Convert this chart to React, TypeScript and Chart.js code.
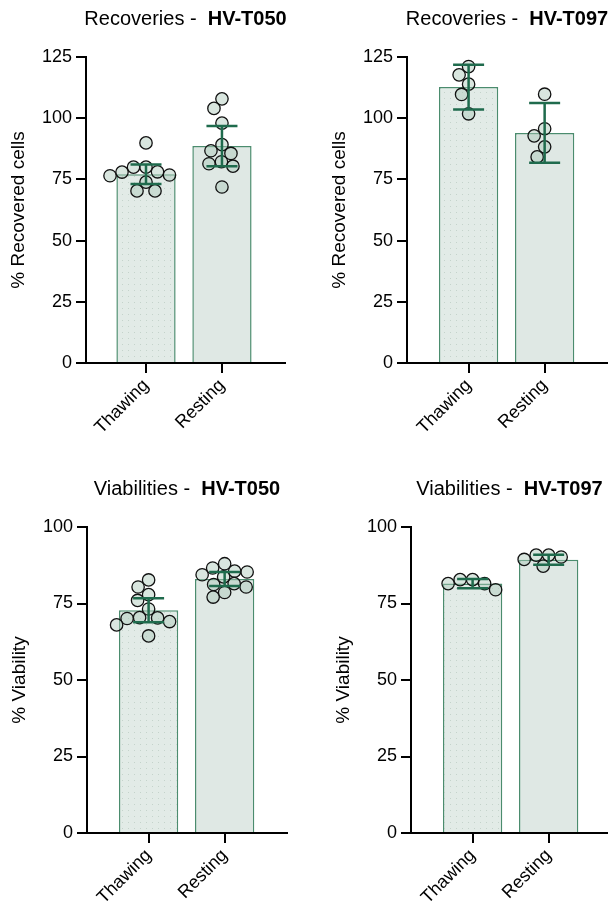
import React, { useEffect, useRef } from 'react';
import { Chart, registerables } from 'chart.js';

Chart.register(...registerables);

// ---------- data ----------
const categories = ['Thawing', 'Resting'];

// Recoveries - HV-T050
const recT050Thawing = [89.9, 80.0, 80.0, 76.8, 76.5, 78.0, 78.1, 70.3, 70.3, 73.9];
const recT050Resting = [107.9, 104.0, 98.0, 89.2, 85.6, 86.7, 82.2, 81.4, 80.4, 71.9];
const recT050Means = [77.1, 88.6];
const recT050Ci = [4.0, 8.2];

// Recoveries - HV-T097
const recT097Thawing = [121.1, 117.7, 113.9, 109.7, 101.8];
const recT097Resting = [109.8, 95.7, 92.8, 88.3, 84.2];
const recT097Means = [112.7, 94.0];
const recT097Ci = [9.1, 12.2];

// Viabilities - HV-T050
const viaT050Thawing = [82.7, 80.4, 77.9, 76.0, 73.2, 70.3, 69.1, 70.4, 70.1, 68.0, 64.4];
const viaT050Resting = [84.4, 85.3, 86.6, 88.0, 85.6, 83.7, 81.2, 80.4, 81.5, 77.1, 78.6];
const viaT050Means = [72.8, 83.0];
const viaT050Ci = [3.9, 2.3];

// Viabilities - HV-T097
const viaT097Thawing = [81.5, 82.8, 81.5, 82.8, 79.5];
const viaT097Resting = [89.4, 90.8, 90.2, 90.8, 87.2];
const viaT097Means = [81.5, 89.3];
const viaT097Ci = [1.5, 1.6];

const recoveryMax = 125;
const viabilityMax = 100;
const tickStep = 25;

// ---------- styles / layout ----------
const FONT = "'Liberation Sans', Arial, Helvetica, sans-serif";
const BAR_FILL = '#dfe8e4';
const BAR_BORDER = '#4b8c6e';
const ERR_COLOR = '#1f6b4d';
const POINT_FILL = 'rgba(170,200,185,0.45)';

type Panel = {
  titleA: string;
  titleB: string;
  yLabel: string;
  yMax: number;
  thawing: number[];
  resting: number[];
  means: number[];
  ci: number[];
  canvasLeft: number;
  canvasTop: number;
  areaLeft: number;
  areaTop: number;
  xHeight: number;
  padRight: number;
  xMin: number;
  xMax: number;
};

const panels: Panel[] = [
  {
    titleA: 'Recoveries -  ', titleB: 'HV-T050', yLabel: '% Recovered cells', yMax: recoveryMax,
    thawing: recT050Thawing, resting: recT050Resting, means: recT050Means, ci: recT050Ci,
    canvasLeft: 0, canvasTop: 0, areaLeft: 86, areaTop: 57, xHeight: 91, padRight: 19, xMin: -0.79, xMax: 1.83,
  },
  {
    titleA: 'Recoveries -  ', titleB: 'HV-T097', yLabel: '% Recovered cells', yMax: recoveryMax,
    thawing: recT097Thawing, resting: recT097Resting, means: recT097Means, ci: recT097Ci,
    canvasLeft: 304, canvasTop: 0, areaLeft: 103, areaTop: 57, xHeight: 91, padRight: 1, xMin: -0.81, xMax: 1.82,
  },
  {
    titleA: 'Viabilities -  ', titleB: 'HV-T050', yLabel: '% Viability', yMax: viabilityMax,
    thawing: viaT050Thawing, resting: viaT050Resting, means: viaT050Means, ci: viaT050Ci,
    canvasLeft: 0, canvasTop: 454, areaLeft: 87, areaTop: 73, xHeight: 75, padRight: 17, xMin: -0.81, xMax: 1.82,
  },
  {
    titleA: 'Viabilities -  ', titleB: 'HV-T097', yLabel: '% Viability', yMax: viabilityMax,
    thawing: viaT097Thawing, resting: viaT097Resting, means: viaT097Means, ci: viaT097Ci,
    canvasLeft: 304, canvasTop: 454, areaLeft: 107, areaTop: 73, xHeight: 75, padRight: 0, xMin: -0.81, xMax: 1.78,
  },
];

const W = 304;
const H = 454;

// ---------- plugins ----------
const swarmPlugin = {
  id: 'swarm',
  afterDatasetsUpdate(chart: any) {
    chart.data.datasets.forEach((ds: any, i: number) => {
      if (ds.type !== 'scatter') return;
      const meta = chart.getDatasetMeta(i);
      const D = 12.3;
      const els = meta.data.slice().sort((a: any, b: any) => a.y - b.y);
      const placed: { x: number; y: number }[] = [];
      els.forEach((el: any) => {
        const cx = el.x;
        const cy = el.y;
        let chosen = cx;
        for (let k = 0; k < 400; k++) {
          const off = (k % 2 === 0 ? 1 : -1) * Math.ceil(k / 2) * 0.5;
          const px = cx + off;
          let ok = true;
          for (const p of placed) {
            const dx = p.x - px;
            const dy = p.y - cy;
            if (dx * dx + dy * dy < D * D) { ok = false; break; }
          }
          if (ok) { chosen = px; break; }
        }
        el.x = chosen;
        placed.push({ x: chosen, y: cy });
      });
    });
  },
};

const errorBarPlugin = {
  id: 'errbars',
  afterDatasetsDraw(chart: any, _args: any, opts: any) {
    const { ctx, scales } = chart;
    const means: number[] = opts.means;
    const ci: number[] = opts.ci;
    ctx.save();
    ctx.strokeStyle = ERR_COLOR;
    ctx.lineWidth = 2.5;
    ctx.lineCap = 'butt';
    means.forEach((m, i) => {
      const x = scales.x.getPixelForValue(i);
      const yt = scales.y.getPixelForValue(m + ci[i]);
      const yb = scales.y.getPixelForValue(m - ci[i]);
      const half = 15.5;
      ctx.beginPath();
      ctx.moveTo(x, yt);
      ctx.lineTo(x, yb);
      ctx.moveTo(x - half, yt);
      ctx.lineTo(x + half, yt);
      ctx.moveTo(x - half, yb);
      ctx.lineTo(x + half, yb);
      ctx.stroke();
    });
    ctx.restore();
  },
};

const titlePlugin = {
  id: 'mixedTitle',
  afterDraw(chart: any, _args: any, opts: any) {
    const { ctx, chartArea } = chart;
    ctx.save();
    const fa = `normal 20px ${FONT}`;
    const fb = `bold 20px ${FONT}`;
    ctx.font = fa;
    const wa = ctx.measureText(opts.a).width;
    ctx.font = fb;
    const wb = ctx.measureText(opts.b).width;
    const cx = (chartArea.left + chartArea.right) / 2;
    const x0 = cx - (wa + wb) / 2;
    const y = chartArea.top - 32;
    ctx.fillStyle = '#000';
    ctx.textBaseline = 'alphabetic';
    ctx.textAlign = 'left';
    ctx.font = fa;
    ctx.fillText(opts.a, x0, y);
    ctx.font = fb;
    ctx.fillText(opts.b, x0 + wa, y);
    ctx.restore();
  },
};

function makeDotPattern(): CanvasPattern | string {
  const c = document.createElement('canvas');
  c.width = 6;
  c.height = 6;
  const g = c.getContext('2d');
  if (!g) return BAR_FILL;
  g.fillStyle = '#e2ebe7';
  g.fillRect(0, 0, 6, 6);
  g.fillStyle = '#c4d3cb';
  g.fillRect(2, 2, 1, 1);
  const p = g.createPattern(c, 'repeat');
  return p || BAR_FILL;
}

function PanelChart({ p }: { p: Panel }) {
  const ref = useRef<HTMLCanvasElement>(null);
  useEffect(() => {
    if (!ref.current) return;
    const axisGrid = {
      display: true,
      drawOnChartArea: false,
      drawTicks: true,
      tickLength: 10,
      color: '#000',
      lineWidth: 2,
      offset: false,
    };
    const border = { display: true, color: '#000', width: 2 };
    const chart = new Chart(ref.current, {
      type: 'bar',
      data: {
        datasets: [
          {
            type: 'bar',
            order: 3,
            data: p.means.map((m, i) => ({ x: i, y: m })),
            backgroundColor: [makeDotPattern(), BAR_FILL],
            borderColor: BAR_BORDER,
            borderWidth: 1.5,
            categoryPercentage: 1,
            barPercentage: 0.78,
          } as any,
          {
            type: 'scatter',
            order: 1,
            data: p.thawing.map((v) => ({ x: 0, y: v })),
            pointRadius: 6.2,
            pointBorderWidth: 1.3,
            pointBorderColor: '#111',
            pointBackgroundColor: POINT_FILL,
            showLine: false,
          } as any,
          {
            type: 'scatter',
            order: 1,
            data: p.resting.map((v) => ({ x: 1, y: v })),
            pointRadius: 6.2,
            pointBorderWidth: 1.3,
            pointBorderColor: '#111',
            pointBackgroundColor: POINT_FILL,
            showLine: false,
          } as any,
        ],
      },
      options: {
        responsive: false,
        animation: false,
        events: [],
        layout: {
          autoPadding: false,
          padding: { top: p.areaTop, left: 0, right: p.padRight, bottom: 0 },
        },
        plugins: {
          legend: { display: false },
          tooltip: { enabled: false },
          title: { display: false },
          errbars: { means: p.means, ci: p.ci },
          mixedTitle: { a: p.titleA, b: p.titleB },
        } as any,
        scales: {
          x: {
            type: 'linear',
            offset: false,
            min: p.xMin,
            max: p.xMax,
            afterBuildTicks: (s: any) => {
              s.ticks = categories.map((_, i) => ({ value: i }));
            },
            afterFit: (s: any) => {
              s.height = p.xHeight;
            },
            ticks: {
              callback: (_v: any, i: number) => categories[i],
              autoSkip: false,
              minRotation: 45,
              maxRotation: 45,
              padding: 2,
              color: '#000',
              font: { family: FONT, size: 18 },
            },
            grid: axisGrid,
            border,
          },
          y: {
            type: 'linear',
            min: 0,
            max: p.yMax,
            afterFit: (s: any) => {
              s.width = p.areaLeft;
            },
            ticks: {
              stepSize: tickStep,
              padding: 4,
              color: '#000',
              font: { family: FONT, size: 18 },
            },
            grid: axisGrid,
            border,
            title: {
              display: true,
              text: p.yLabel,
              color: '#000',
              font: { family: FONT, size: 19 },
              padding: { top: p.areaLeft - 67 - 11.4, bottom: 0 },
            },
          },
        } as any,
      },
      plugins: [swarmPlugin, errorBarPlugin, titlePlugin],
    });
    return () => chart.destroy();
  }, [p]);
  return (
    <canvas
      ref={ref}
      width={W}
      height={H}
      style={{ position: 'absolute', left: p.canvasLeft, top: p.canvasTop, width: W, height: H }}
    />
  );
}

export default function App() {
  return (
    <div style={{ position: 'absolute', left: 0, top: 0, width: 608, height: 908, background: '#fff' }}>
      {panels.map((p, i) => (
        <PanelChart key={i} p={p} />
      ))}
    </div>
  );
}
